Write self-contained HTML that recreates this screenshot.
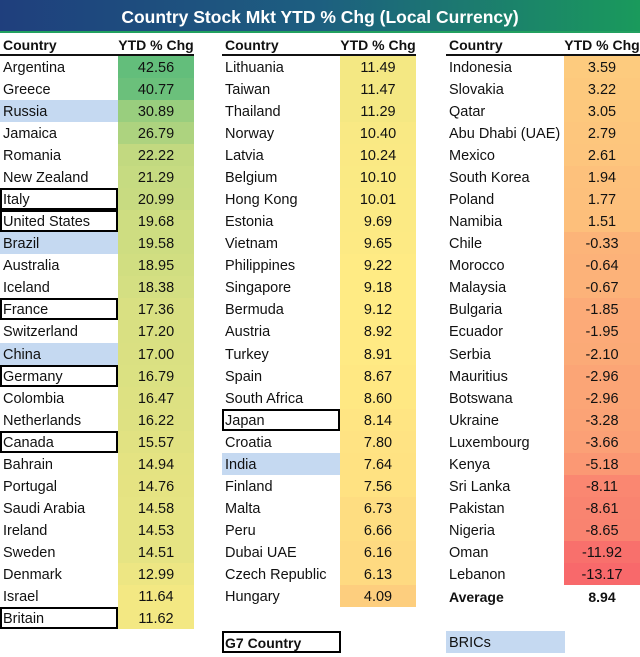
<!DOCTYPE html>
<html><head><meta charset="utf-8">
<style>
html,body{margin:0;padding:0;background:#fff;}
#root{position:relative;width:640px;height:657px;overflow:hidden;font-family:"Liberation Sans",Arial,sans-serif;font-size:14.5px;color:#111;}
.title{position:absolute;left:0;top:0;width:640px;height:33px;background:linear-gradient(90deg,#1f3f7d 0%,#1d5f80 50%,#1a9a5c 100%);color:#fff;font-weight:bold;font-size:17.5px;text-align:center;line-height:34px;border-bottom:2px solid #22a060;box-sizing:border-box;}
.c{position:absolute;box-sizing:border-box;white-space:nowrap;}
.n{padding-left:3px;}
.v{text-align:center;}
.h{font-weight:bold;font-size:14px;}
.ul{position:absolute;height:2px;background:#111;}
.g7{border:2px solid #000;padding-left:1px;}
.bric{background:#c5d9f1;}
</style></head><body>
<div id="root">
<div class="title">Country Stock Mkt YTD % Chg (Local Currency)</div>
</div>
<script>
const col1Names=["Argentina","Greece","Russia","Jamaica","Romania","New Zealand","Italy","United States","Brazil","Australia","Iceland","France","Switzerland","China","Germany","Colombia","Netherlands","Canada","Bahrain","Portugal","Saudi Arabia","Ireland","Sweden","Denmark","Israel","Britain"];
const col1Values=[42.56,40.77,30.89,26.79,22.22,21.29,20.99,19.68,19.58,18.95,18.38,17.36,17.20,17.00,16.79,16.47,16.22,15.57,14.94,14.76,14.58,14.53,14.51,12.99,11.64,11.62];
const col2Names=["Lithuania","Taiwan","Thailand","Norway","Latvia","Belgium","Hong Kong","Estonia","Vietnam","Philippines","Singapore","Bermuda","Austria","Turkey","Spain","South Africa","Japan","Croatia","India","Finland","Malta","Peru","Dubai UAE","Czech Republic","Hungary"];
const col2Values=[11.49,11.47,11.29,10.40,10.24,10.10,10.01,9.69,9.65,9.22,9.18,9.12,8.92,8.91,8.67,8.60,8.14,7.80,7.64,7.56,6.73,6.66,6.16,6.13,4.09];
const col3Names=["Indonesia","Slovakia","Qatar","Abu Dhabi (UAE)","Mexico","South Korea","Poland","Namibia","Chile","Morocco","Malaysia","Bulgaria","Ecuador","Serbia","Mauritius","Botswana","Ukraine","Luxembourg","Kenya","Sri Lanka","Pakistan","Nigeria","Oman","Lebanon"];
const col3Values=[3.59,3.22,3.05,2.79,2.61,1.94,1.77,1.51,-0.33,-0.64,-0.67,-1.85,-1.95,-2.10,-2.96,-2.96,-3.28,-3.66,-5.18,-8.11,-8.61,-8.65,-11.92,-13.17];
const g7=["Italy","United States","France","Germany","Canada","Britain","Japan"];
const brics=["Russia","Brazil","China","India"];
const averageLabel="8.94";

const root=document.getElementById('root');
const all=col1Values.concat(col2Values,col3Values);
const sorted=all.slice().sort((a,b)=>a-b);
const mn=sorted[0], mx=sorted[sorted.length-1];
const m=sorted.length;
const med=m%2?sorted[(m-1)/2]:(sorted[m/2-1]+sorted[m/2])/2;
function mix(a,b,t){return a.map((x,i)=>Math.round(x+(b[i]-x)*t));}
function color(v){
  const R=[248,105,107],Y=[255,235,132],G=[99,190,123];
  let c=v<med?mix(R,Y,(v-mn)/(med-mn)):mix(Y,G,(v-med)/(mx-med));
  return 'rgb('+c.join(',')+')';
}
const ROW0=56, RH=22.04;
function rowY(i){return Math.round(ROW0+i*RH);}
const cols=[{x:0,names:col1Names,vals:col1Values},{x:222,names:col2Names,vals:col2Values},{x:446,names:col3Names,vals:col3Values}];
function cell(cls,x,y,w,h,txt){const d=document.createElement('div');d.className='c '+cls;d.style.left=x+'px';d.style.top=y+'px';d.style.width=w+'px';d.style.height=h+'px';d.style.lineHeight=(cls.indexOf('g7')>=0?h-2:h+2)+'px';d.textContent=txt;root.appendChild(d);return d;}
cols.forEach((c,ci)=>{
  const h1=cell('n h',c.x,34,118,20,'Country');
  
  
  const h2=cell('v h',c.x+118,34,76,20,'YTD % Chg');
  
  
  const u=document.createElement('div');u.className='ul';u.style.left=c.x+'px';u.style.top='54px';u.style.width='194px';
  
  
  root.appendChild(u);
  c.names.forEach((nm,i)=>{
    const y=rowY(i), h=rowY(i+1)-y;
    let cls='n';
    if(g7.includes(nm))cls+=' g7';
    if(brics.includes(nm))cls+=' bric';
    const a=cell(cls,c.x,y,118,h,nm);
    
    
    const v=c.vals[i];
    const b=cell('v',c.x+118,y,76,h,v.toFixed(2));
    b.style.background=color(v);
    
    
  });
});
const ay=rowY(24);
const al=cell('n h',446,ay,118,22,'Average');


const av=cell('v h',564,ay,76,22,averageLabel);


const ly=rowY(26)+2;
const lg=cell('n h g7',222,ly,119,22,'G7 Country');


const lb=cell('n bric',446,ly,119,22,'BRICs');


</script>
</body></html>
